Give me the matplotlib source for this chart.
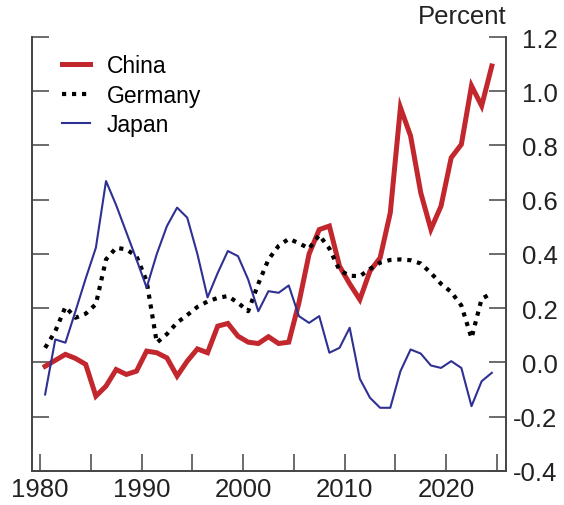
import numpy as np
import matplotlib
matplotlib.use('Agg')
from matplotlib import pyplot as plt
from matplotlib.ticker import MultipleLocator, FixedLocator

# Annual data, 1980-2024 (plotted at mid-year)
years = np.arange(1980, 2025)

china = [-0.014, 0.008, 0.03, 0.015, -0.007, -0.124, -0.087, -0.026, -0.044, -0.032,
         0.042, 0.036, 0.017, -0.05, 0.005, 0.05, 0.036, 0.134, 0.144, 0.097,
         0.075, 0.07, 0.095, 0.07, 0.075, 0.22, 0.40, 0.49, 0.503, 0.355,
         0.29, 0.232, 0.337, 0.386, 0.552, 0.94, 0.835, 0.626, 0.491, 0.577,
         0.755, 0.804, 1.02, 0.946, 1.093]

germany = [0.054, 0.115, 0.205, 0.165, 0.18, 0.215, 0.38, 0.423, 0.417, 0.392,
           0.30, 0.073, 0.105, 0.147, 0.175, 0.205, 0.225, 0.238, 0.245, 0.22,
           0.189, 0.29, 0.38, 0.43, 0.456, 0.44, 0.42, 0.47, 0.42, 0.34,
           0.32, 0.318, 0.345, 0.368, 0.378, 0.38, 0.377, 0.365, 0.33, 0.29,
           0.26, 0.21, 0.09, 0.235, 0.255]

japan = [-0.118, 0.085, 0.073, 0.19, 0.31, 0.423, 0.669, 0.58, 0.48, 0.38,
         0.276, 0.40, 0.503, 0.571, 0.534, 0.40, 0.24, 0.33, 0.411, 0.392,
         0.306, 0.189, 0.263, 0.257, 0.284, 0.171, 0.146, 0.171, 0.036, 0.054,
         0.128, -0.06, -0.13, -0.167, -0.167, -0.032, 0.048, 0.033, -0.011, -0.02,
         0.005, -0.02, -0.161, -0.069, -0.038]

yticks = [-0.4, -0.2, 0.0, 0.2, 0.4, 0.6, 0.8, 1.0, 1.2]

plt.rcParams['font.family'] = ['Liberation Sans', 'DejaVu Sans']
plt.rcParams['axes.unicode_minus'] = False

fig = plt.figure(figsize=(5.64, 5.06), dpi=100)
ax = fig.add_axes([0.0573, 0.0672, 0.8399, 0.8577])

x = years + 0.5
ax.plot(x, china, color='#C1272D', lw=3.6, label='China', solid_joinstyle='miter')
ax.plot(x, germany, color='black', lw=3.0, linestyle=(0, (1, 1.4)), label='Germany')
ax.plot(x, japan, color='#2E3192', lw=1.5, label='Japan')

ax.set_xlim(1979.24, 2025.9)
ax.set_ylim(-0.4, 1.2)

spine_c = '#444444'
for s in ['left', 'right', 'bottom']:
    ax.spines[s].set_color(spine_c)
    ax.spines[s].set_linewidth(1.4)
ax.spines['top'].set_visible(False)

ax.xaxis.set_major_locator(MultipleLocator(10))
ax.xaxis.set_minor_locator(FixedLocator([1985, 1995, 2005, 2015, 2025]))
ax.set_yticks(yticks)
ax.set_yticklabels([f'{v:.1f}' for v in yticks])

ax.tick_params(axis='x', which='both', direction='in', length=12, width=1.1,
               color=spine_c, labelsize=18.5, pad=4, labelcolor='#222222')
ax.tick_params(axis='y', which='both', direction='in', length=12, width=1.1,
               color=spine_c, left=True, right=True, labelleft=False,
               labelright=True, labelsize=18.5, pad=37, labelcolor='#222222')
for lab in ax.get_yticklabels():
    lab.set_horizontalalignment('right')

ax.text(1.0, 1.02, 'Percent', transform=ax.transAxes, ha='right', va='bottom',
        fontsize=18.5, color='#222222')

ax.legend(loc='upper left', bbox_to_anchor=(0.063, 0.96), frameon=False,
          fontsize=16.5, handlelength=1.2, handletextpad=0.75, labelspacing=0.28,
          borderpad=0, borderaxespad=0)

fig.savefig('out.png', dpi=100)
